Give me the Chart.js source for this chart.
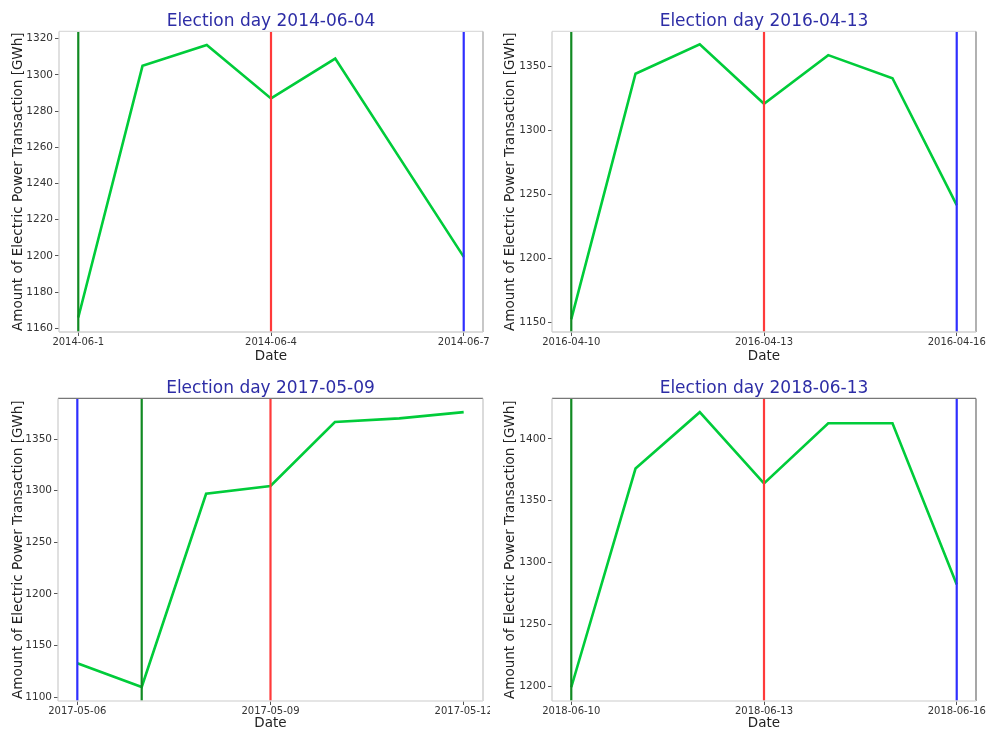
<!DOCTYPE html>
<html>
<head>
<meta charset="utf-8">
<script src="https://cdn.jsdelivr.net/npm/chart.js@4.4.1/dist/chart.umd.min.js"></script>
<style>
  body { margin: 0; background: #fff; }
  .panel { position: absolute; }
</style>
</head>
<body>
<div class="panel" style="left:0;top:0"><canvas id="c2014" width="490" height="365"></canvas></div>
<div class="panel" style="left:490px;top:0"><canvas id="c2016" width="497" height="365"></canvas></div>
<div class="panel" style="left:0;top:365px"><canvas id="c2017" width="490" height="368"></canvas></div>
<div class="panel" style="left:490px;top:365px"><canvas id="c2018" width="497" height="368"></canvas></div>
<script>
// day of month for each observation, and the power value (GWh)
var days2014 = [1, 2, 3, 4, 5, 7];
var power2014 = [1166, 1305, 1316.5, 1287, 1309, 1199.5];
var days2016 = [10, 11, 12, 13, 14, 15, 16];
var power2016 = [1152.5, 1344, 1367, 1320.5, 1358.5, 1340.5, 1241.5];
var days2017 = [6, 7, 8, 9, 10, 11, 12];
var power2017 = [1133, 1110, 1297, 1304.5, 1366.5, 1370, 1376];
var days2018 = [10, 11, 12, 13, 14, 15, 16];
var power2018 = [1199.5, 1376, 1421.5, 1364, 1412.5, 1412.5, 1282.5];

// vertical markers: [start (dark green), election day (red), end (blue)]
var marks2014 = [1, 4, 7];
var marks2016 = [10, 13, 16];
var marks2017 = [7, 9, 6];
var marks2018 = [10, 13, 16];

// tick positions and labels
var xTicks2014 = [1, 4, 7];
var xLabels2014 = ['2014-06-1', '2014-06-4', '2014-06-7'];
var xTicks2016 = [10, 13, 16];
var xLabels2016 = ['2016-04-10', '2016-04-13', '2016-04-16'];
var xTicks2017 = [6, 9, 12];
var xLabels2017 = ['2017-05-06', '2017-05-09', '2017-05-12'];
var xTicks2018 = [10, 13, 16];
var xLabels2018 = ['2018-06-10', '2018-06-13', '2018-06-16'];

var yTicks2014 = [1160, 1180, 1200, 1220, 1240, 1260, 1280, 1300, 1320];
var yTicks2016 = [1150, 1200, 1250, 1300, 1350];
var yTicks2017 = [1100, 1150, 1200, 1250, 1300, 1350];
var yTicks2018 = [1200, 1250, 1300, 1350, 1400];

var titles = ['Election day 2014-06-04', 'Election day 2016-04-13', 'Election day 2017-05-09', 'Election day 2018-06-13'];

var FONT = "'DejaVu Sans', sans-serif";

var frame = {
  id: 'frame',
  afterDatasetsDraw: function(chart, args, o) {
    var a = chart.chartArea, ctx = chart.ctx;
    ctx.save();
    ctx.lineWidth = 1.3;
    function seg(x1, y1, x2, y2, c) {
      ctx.strokeStyle = c;
      ctx.beginPath(); ctx.moveTo(x1, y1); ctx.lineTo(x2, y2); ctx.stroke();
    }
    seg(a.left, a.top, a.right, a.top, o.top);
    seg(a.right, a.top, a.right, a.bottom, o.right);
    seg(a.left, a.bottom, a.right, a.bottom, o.bottom);
    seg(a.left, a.top, a.left, a.bottom, o.left);
    ctx.restore();
  }
};

function panel(id, p) {
  var pts = p.days.map(function(d, i) { return {x: d, y: p.power[i]}; });
  function vline(d, color) {
    return {data: [{x: d, y: p.ymin}, {x: d, y: p.ymax}], borderColor: color,
            borderWidth: 2.2, pointRadius: 0, order: 1};
  }
  new Chart(document.getElementById(id), {
    type: 'line',
    data: {
      datasets: [
        {data: pts, borderColor: '#00cc3a', borderWidth: 2.6, pointRadius: 0, order: 2, tension: 0},
        vline(p.marks[0], '#118a22'),
        vline(p.marks[1], '#ff3a3a'),
        vline(p.marks[2], '#2f2fff')
      ]
    },
    options: {
      responsive: false,
      animation: false,
      layout: {padding: {left: 0, right: p.padRight, top: 0, bottom: 0}},
      plugins: {
        legend: {display: false},
        tooltip: {enabled: false},
        title: {display: true, text: p.title, color: '#2d2da6', fullSize: false,
                font: {family: FONT, size: 17, weight: 'normal'},
                padding: {top: p.titleTop, bottom: 0}},
        frame: p.frame
      },
      scales: {
        x: {
          type: 'linear', min: p.xmin, max: p.xmax,
          afterBuildTicks: function(s) { s.ticks = p.xTicks.map(function(v) { return {value: v}; }); },
          afterFit: function(s) { s.height = p.xHeight; s.paddingLeft = 0; s.paddingRight = 0; },
          ticks: {autoSkip: false, maxRotation: 0, padding: 0, color: '#333',
                  font: {family: FONT, size: 10},
                  callback: function(v) { return p.xLabels[p.xTicks.indexOf(v)]; }},
          grid: {drawOnChartArea: false, drawTicks: true, tickLength: 4, color: '#555'},
          border: {display: false},
          title: {display: true, text: 'Date', color: '#222', font: {family: FONT, size: 13.5},
                  padding: {top: 0, bottom: p.xTitleBottom}}
        },
        y: {
          type: 'linear', min: p.ymin, max: p.ymax,
          afterBuildTicks: function(s) { s.ticks = p.yTicks.map(function(v) { return {value: v}; }); },
          afterFit: function(s) { s.width = p.yWidth; s.paddingTop = 0; s.paddingBottom = 0; },
          ticks: {padding: 2, color: '#333', font: {family: FONT, size: 10.5},
                  callback: function(v) { return String(v); }},
          grid: {drawOnChartArea: false, drawTicks: true, tickLength: 4, color: '#555'},
          border: {display: false},
          title: {display: true, text: 'Amount of Electric Power Transaction [GWh]', color: '#222',
                  font: {family: FONT, size: 13.5}, padding: {top: p.yTitleTop, bottom: 0}}
        }
      }
    },
    plugins: [frame]
  });
}

panel('c2014', {
  days: days2014, power: power2014, marks: marks2014, title: titles[0],
  xTicks: xTicks2014, xLabels: xLabels2014, yTicks: yTicks2014,
  xmin: 0.7, xmax: 7.3, ymin: 1158, ymax: 1324,
  yWidth: 59, xHeight: 33, padRight: 7, titleTop: 11, yTitleTop: 10, xTitleBottom: 0,
  frame: {top: '#dcdcdc', right: '#aaa', bottom: '#d0d0d0', left: '#d0d0d0'}
});
panel('c2016', {
  days: days2016, power: power2016, marks: marks2016, title: titles[1],
  xTicks: xTicks2016, xLabels: xLabels2016, yTicks: yTicks2016,
  xmin: 9.7, xmax: 16.3, ymin: 1142.5, ymax: 1377,
  yWidth: 62, xHeight: 33, padRight: 11, titleTop: 11, yTitleTop: 12, xTitleBottom: 0,
  frame: {top: '#dcdcdc', right: '#888', bottom: '#d0d0d0', left: '#d0d0d0'}
});
panel('c2017', {
  days: days2017, power: power2017, marks: marks2017, title: titles[2],
  xTicks: xTicks2017, xLabels: xLabels2017, yTicks: yTicks2017,
  xmin: 5.7, xmax: 12.3, ymin: 1096.4, ymax: 1389.3,
  yWidth: 58, xHeight: 32, padRight: 7, titleTop: 13, yTitleTop: 10, xTitleBottom: 1,
  frame: {top: '#777', right: '#c8c8c8', bottom: '#dcdcdc', left: '#d0d0d0'}
});
panel('c2018', {
  days: days2018, power: power2018, marks: marks2018, title: titles[3],
  xTicks: xTicks2018, xLabels: xLabels2018, yTicks: yTicks2018,
  xmin: 9.7, xmax: 16.3, ymin: 1188.4, ymax: 1432.6,
  yWidth: 62, xHeight: 32, padRight: 11, titleTop: 13, yTitleTop: 12, xTitleBottom: 1,
  frame: {top: '#777', right: '#777', bottom: '#dcdcdc', left: '#d0d0d0'}
});
</script>
</body>
</html>
